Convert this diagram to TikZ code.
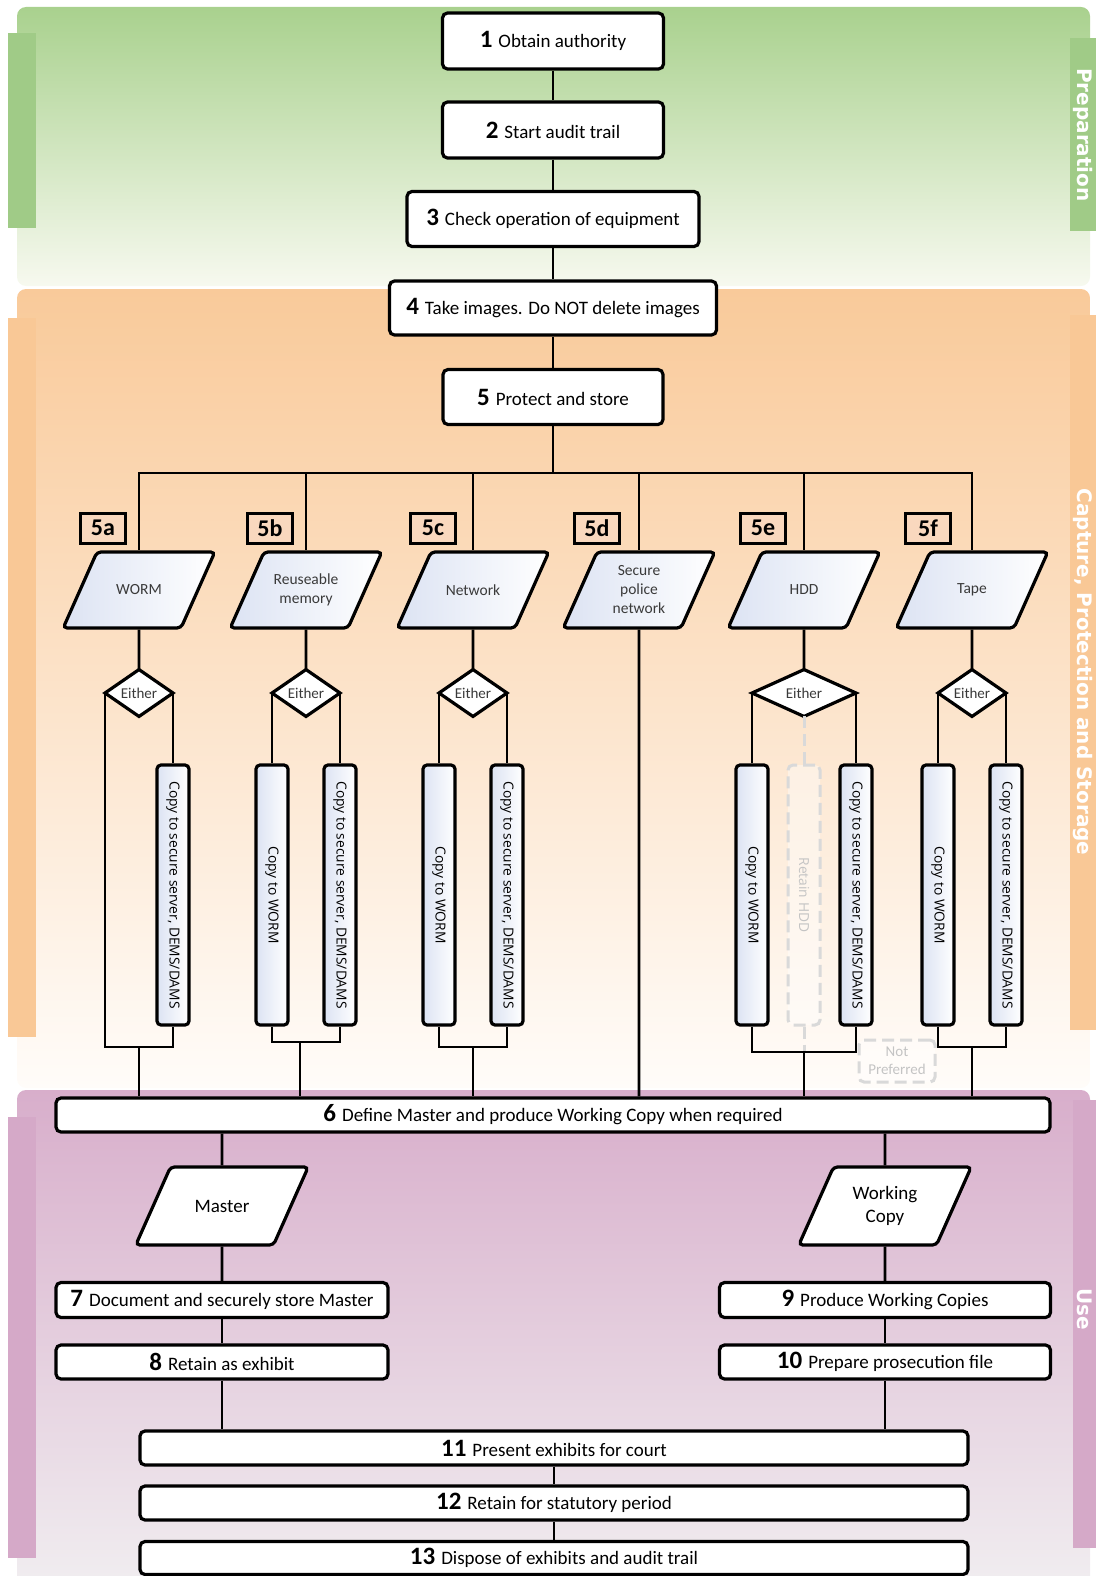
\documentclass[tikz,border=0pt]{standalone}
\usepackage{fontspec}
\setmainfont{Carlito}
\newfontfamily\copyfont{Open Sans}
\newfontfamily\bandfont{DejaVu Sans}
\usepackage{graphicx}
\usetikzlibrary{shapes.geometric}

\definecolor{prepgreen}{HTML}{A9D18E}
\definecolor{preplight}{HTML}{F7F9EF}
\definecolor{prepstrip}{HTML}{A0CB87}
\definecolor{caporange}{HTML}{F9CA9A}
\definecolor{caplight}{HTML}{FFFCF9}
\definecolor{capstrip}{HTML}{F9C896}
\definecolor{usepink}{HTML}{D8AECB}
\definecolor{uselight}{HTML}{F1EFF1}
\definecolor{usestrip}{HTML}{D5A9C8}
\definecolor{mediablue}{HTML}{DCE3F3}
\definecolor{tagfill}{HTML}{F9D8BE}
\definecolor{fadegray}{HTML}{D9D9D9}
\definecolor{fadetext}{HTML}{C4C4C4}
\definecolor{mediatext}{HTML}{3A3A3A}

\newcommand\stepnum[1]{{\fontsize{25}{25}\selectfont\bfseries #1}\hspace{6pt}}
\newcommand\medialabel[3]{\parbox[c][#1][c]{#2}{\centering #3}}

\begin{document}
\begin{tikzpicture}[x=1pt,y=-1pt,line width=2.8pt,
    main node/.style={draw,rounded corners=5pt,fill=white,line width=3.2pt,inner sep=0pt,font=\fontsize{19}{22}\selectfont},
    media node/.style={draw,trapezium,trapezium left angle=66,trapezium right angle=114,rounded corners=4pt,line width=3.2pt,fill=white,inner sep=0pt,font=\fontsize{15.5}{19}\selectfont},
    tinted/.style={left color=mediablue,right color=white,text=mediatext},
    either node/.style={draw,diamond,line width=3.2pt,fill=white,inner sep=0pt,outer sep=0pt,minimum width=68,minimum height=44,text=mediatext,font=\fontsize{15}{17}\selectfont},
    copy node/.style={draw,rounded corners=4pt,line width=3.2pt,minimum width=32,minimum height=260,inner sep=0pt,left color=mediablue,right color=white,font=\copyfont\fontsize{13.8}{15}\selectfont},
    tag node/.style={draw,line width=3pt,fill=tagfill,minimum width=45,minimum height=30,inner sep=0pt,font=\fontsize{24}{24}\selectfont\bfseries},
    faded node/.style={draw=fadegray,dash pattern=on 12pt off 6pt,line width=3pt,rounded corners=5pt,fill=white,fill opacity=0.4,text opacity=1,text=fadetext,inner sep=0pt},
    faded line/.style={draw=fadegray,dash pattern=on 12pt off 6pt,line width=3pt},
    band label/.style={text=white,rotate=-90,font=\bandfont\bfseries\fontsize{20}{22}\selectfont}]

\useasboundingbox (0,0) rectangle (1096,1576);

% bands
\shade[top color=prepgreen,bottom color=preplight,rounded corners=9pt] (17,7) rectangle (1090,286);
\shade[top color=caporange,bottom color=caplight,rounded corners=9pt] (17,289) rectangle (1090,1088);
\shade[top color=usepink,bottom color=uselight,rounded corners=9pt] (17,1090) rectangle (1090,1600);
\fill[prepstrip] (8,33) rectangle (36,228);
\fill[prepstrip] (1070,38) rectangle (1096,231);
\fill[capstrip] (8,318) rectangle (36,1037);
\fill[capstrip] (1070,315) rectangle (1096,1030);
\fill[usestrip] (8,1117) rectangle (36,1558);
\fill[usestrip] (1073,1100) rectangle (1096,1548);

\node[band label] (prep) at (1083,135) {Preparation};
\node[band label] (capt) at (1083,672) {Capture, Protection and Storage};
\node[band label] (use) at (1085,1309) {Use};

% preparation and capture
\node[main node,minimum width=221,minimum height=56] (1) at (553,41) {\stepnum{1}Obtain authority};
\node[main node,minimum width=221,minimum height=56] (2) at (553,130) {\stepnum{2}Start audit trail};
\node[main node,minimum width=292,minimum height=55] (3) at (553,219) {\stepnum{3}Check operation of equipment};
\node[main node,minimum width=327,minimum height=54] (4) at (553,308) {\stepnum{4}Take images. Do NOT delete images};
\node[main node,minimum width=220,minimum height=55] (5) at (553,397) {\stepnum{5}Protect and store};

\path (1) edge (2)
      (2) edge (3)
      (3) edge (4)
      (4) edge (5);

\coordinate (bus) at (553,473);
\draw (5) -- (bus);

% storage media
\node[media node,tinted] (worm) at (139,590) {\medialabel{76pt}{84pt}{WORM}};
\node[media node,tinted] (reuse) at (306,590) {\medialabel{76pt}{84pt}{Reuseable\\memory}};
\node[media node,tinted] (net) at (473,590) {\medialabel{76pt}{84pt}{Network}};
\node[media node,tinted] (spn) at (639,590) {\medialabel{76pt}{84pt}{Secure\\police\\network}};
\node[media node,tinted] (hdd) at (804,590) {\medialabel{76pt}{84pt}{HDD}};
\node[media node,tinted] (tape) at (972,590) {\medialabel{76pt}{84pt}{Tape}};

\foreach \m in {worm,reuse,net,spn,hdd,tape}
    \draw (bus) -| (\m.north);

\node[tag node] (5a) at (103,528) {5a};
\node[tag node] (5b) at (270,528) {5b};
\node[tag node] (5c) at (433,528) {5c};
\node[tag node] (5d) at (597,528) {5d};
\node[tag node] (5e) at (763,528) {5e};
\node[tag node] (5f) at (928,528) {5f};

\node[either node] (ea) at (139,693) {Either};
\node[either node] (eb) at (306,693) {Either};
\node[either node] (ec) at (473,693) {Either};
\node[either node,minimum width=104] (ee) at (804,693) {Either};
\node[either node] (ef) at (972,693) {Either};

\foreach \m/\e in {worm/ea,reuse/eb,net/ec,hdd/ee,tape/ef}
    \draw (\m) -- (\e);

% copies
\node[copy node] (sa) at (173,895) {\rotatebox{-90}{Copy to secure server, DEMS/DAMS}};
\node[copy node] (wb) at (272,895) {\rotatebox{-90}{Copy to WORM}};
\node[copy node] (sb) at (340,895) {\rotatebox{-90}{Copy to secure server, DEMS/DAMS}};
\node[copy node] (wc) at (439,895) {\rotatebox{-90}{Copy to WORM}};
\node[copy node] (sc) at (507,895) {\rotatebox{-90}{Copy to secure server, DEMS/DAMS}};
\node[copy node] (we) at (752,895) {\rotatebox{-90}{Copy to WORM}};
\node[faded node,minimum width=32,minimum height=260,font=\copyfont\fontsize{13.8}{15}\selectfont] (re) at (804,895) {\rotatebox{-90}{Retain HDD}};
\node[copy node] (se) at (856,895) {\rotatebox{-90}{Copy to secure server, DEMS/DAMS}};
\node[copy node] (wf) at (938,895) {\rotatebox{-90}{Copy to WORM}};
\node[copy node] (sf) at (1006,895) {\rotatebox{-90}{Copy to secure server, DEMS/DAMS}};

\coordinate (ja) at (139,1047);
\coordinate (jb) at (300,1042);
\coordinate (jc) at (473,1047);
\coordinate (je) at (804,1052);
\coordinate (jf) at (972,1047);

\draw (ea.east) |- (sa.north);
\draw (ea.west) |- (ja) -| (sa.south);
\draw (eb.west) |- (wb.north);
\draw (eb.east) |- (sb.north);
\draw (wb.south) |- (jb) -| (sb.south);
\draw (ec.west) |- (wc.north);
\draw (ec.east) |- (sc.north);
\draw (wc.south) |- (jc) -| (sc.south);
\draw (ee.west) |- (we.north);
\draw (ee.east) |- (se.north);
\draw[faded line] (ee.south) -- (re.north);
\draw[faded line] (re.south) -- (je);
\draw (we.south) |- (je) -| (se.south);
\draw (ef.west) |- (wf.north);
\draw (ef.east) |- (sf.north);
\draw (wf.south) |- (jf) -| (sf.south);

\node[faded node,minimum width=76,minimum height=42,align=center,font=\fontsize{15}{18}\selectfont] (np) at (897,1061) {Not\\Preferred};

% use
\node[main node,minimum width=994,minimum height=34] (6) at (553,1115) {\stepnum{6}Define Master and produce Working Copy when required};

\foreach \j in {ja,jb,jc,spn,je,jf}
    \draw (\j) -- (\j |- 6.north);

\node[media node,font=\fontsize{19}{23}\selectfont] (master) at (222,1206) {\medialabel{78pt}{103pt}{Master}};
\node[media node,font=\fontsize{19}{23}\selectfont] (wcopy) at (885,1206) {\medialabel{78pt}{103pt}{Working\\Copy}};

\node[main node,minimum width=332,minimum height=35] (7) at (222,1300) {\stepnum{7}Document and securely store Master};
\node[main node,minimum width=332,minimum height=34] (8) at (222,1362) {\stepnum{8}Retain as exhibit};
\node[main node,minimum width=331,minimum height=35] (9) at (885,1300) {\stepnum{9}Produce Working Copies};
\node[main node,minimum width=331,minimum height=34] (10) at (885,1362) {\stepnum{10}Prepare prosecution file};
\node[main node,minimum width=828,minimum height=34] (11) at (554,1448) {\stepnum{11}Present exhibits for court};
\node[main node,minimum width=828,minimum height=34] (12) at (554,1503) {\stepnum{12}Retain for statutory period};
\node[main node,minimum width=828,minimum height=33] (13) at (554,1558) {\stepnum{13}Dispose of exhibits and audit trail};

\draw (master |- 6.south) -- (master);
\draw (wcopy |- 6.south) -- (wcopy);
\path (master) edge (7)
      (7) edge (8)
      (wcopy) edge (9)
      (9) edge (10)
      (11) edge (12)
      (12) edge (13);
\draw (8) -- (8 |- 11.north);
\draw (10) -- (10 |- 11.north);

\end{tikzpicture}
\end{document}
